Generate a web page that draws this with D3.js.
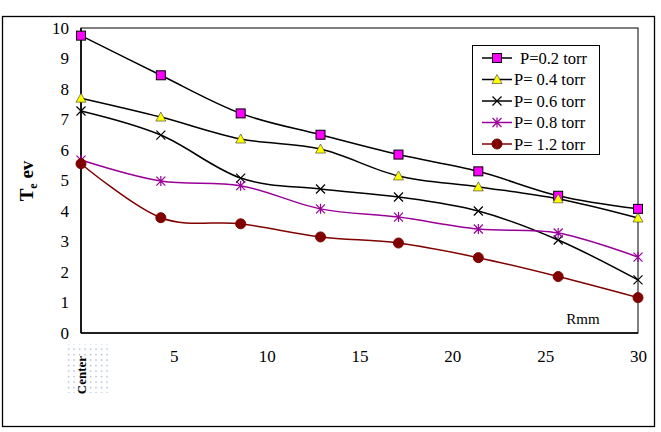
<!DOCTYPE html>
<html>
<head>
<meta charset="utf-8">
<script src="https://cdn.jsdelivr.net/npm/d3@7"></script>
<style>
  body { margin: 0; background: #fff; }
  svg { display: block; font-family: "Liberation Serif", "Times New Roman", serif; }
  .tick text { font-family: "Liberation Serif", "Times New Roman", serif; font-size: 17px; fill: #000; }
</style>
</head>
<body>
<div id="chart"></div>
<script>
// radial position (mm) of each probe point
const radius = [0, 4.3, 8.6, 12.9, 17.1, 21.4, 25.7, 30]

// electron temperature Te (eV) per pressure
const te02 = [9.75, 8.45, 7.2, 6.5, 5.85, 5.3, 4.5, 4.07]
const te04 = [7.7, 7.08, 6.36, 6.03, 5.15, 4.79, 4.4, 3.77]
const te06 = [7.28, 6.49, 5.08, 4.72, 4.46, 4.0, 3.05, 1.74]
const te08 = [5.67, 4.98, 4.83, 4.07, 3.8, 3.41, 3.28, 2.49]
const te12 = [5.55, 3.78, 3.58, 3.15, 2.95, 2.47, 1.85, 1.16]

const seriesNames = ['P=0.2 torr', 'P= 0.4 torr', 'P= 0.6 torr', 'P= 0.8 torr', 'P= 1.2 torr']
const yTicks = [0, 1, 2, 3, 4, 5, 6, 7, 8, 9, 10]
const xTicks = [5, 10, 15, 20, 25, 30]

const W = 661, H = 432
const plot = { left: 81, top: 28, right: 638, bottom: 333 }

const series = [
  { name: seriesNames[0], values: te02, line: '#000', marker: 'square', fill: '#ff00ff', stroke: '#000' },
  { name: seriesNames[1], values: te04, line: '#000', marker: 'triangle', fill: '#ffff00', stroke: '#333' },
  { name: seriesNames[2], values: te06, line: '#000', marker: 'x', fill: 'none', stroke: '#000' },
  { name: seriesNames[3], values: te08, line: '#990099', marker: 'star', fill: 'none', stroke: '#990099' },
  { name: seriesNames[4], values: te12, line: '#800000', marker: 'circle', fill: '#800000', stroke: '#800000' }
]

const svg = d3.select('#chart').append('svg')
  .attr('width', W)
  .attr('height', H)

// dotted patch behind "Center"
const defs = svg.append('defs')
defs.append('pattern')
  .attr('id', 'dots')
  .attr('width', 5.5)
  .attr('height', 5.5)
  .attr('patternUnits', 'userSpaceOnUse')
  .append('rect')
  .attr('x', 2).attr('y', 2)
  .attr('width', 1.2).attr('height', 1.2)
  .attr('fill', '#7f97bb')

// outer chart frame
svg.append('rect')
  .attr('x', 2.5).attr('y', 16.5)
  .attr('width', 652).attr('height', 410)
  .attr('fill', 'none')
  .attr('stroke', '#000')
  .attr('stroke-width', 1.3)

const x = d3.scaleLinear().domain([0, 30]).range([plot.left, plot.right])
const y = d3.scaleLinear().domain([0, 10]).range([plot.bottom, plot.top])

// plot area border
svg.append('rect')
  .attr('x', plot.left).attr('y', plot.top)
  .attr('width', plot.right - plot.left)
  .attr('height', plot.bottom - plot.top)
  .attr('fill', 'none')
  .attr('stroke', '#000')
  .attr('stroke-width', 1)

svg.append('line')
  .attr('x1', plot.left).attr('x2', plot.left)
  .attr('y1', plot.top).attr('y2', plot.bottom)
  .attr('stroke', '#000').attr('stroke-width', 1.6)
svg.append('line')
  .attr('x1', plot.left).attr('x2', plot.right)
  .attr('y1', plot.bottom).attr('y2', plot.bottom)
  .attr('stroke', '#000').attr('stroke-width', 1.6)

// axes (labels only, no tick marks)
const yAxis = svg.append('g')
  .attr('transform', `translate(${plot.left},0)`)
  .call(d3.axisLeft(y).tickValues(yTicks).tickSize(0).tickPadding(12))
yAxis.select('.domain').remove()

const xAxis = svg.append('g')
  .attr('transform', `translate(0,${plot.bottom})`)
  .call(d3.axisBottom(x).tickValues(xTicks).tickSize(0).tickPadding(17))
xAxis.select('.domain').remove()

// "Center" label at r = 0
svg.append('rect')
  .attr('x', 67).attr('y', 344)
  .attr('width', 44).attr('height', 49)
  .attr('fill', 'url(#dots)')
svg.append('text')
  .attr('transform', `translate(${x(0) + 5},375) rotate(-90)`)
  .attr('text-anchor', 'middle')
  .style('font-size', '13px')
  .style('font-weight', 'bold')
  .text('Center')

// y title: Te ev
const yTitle = svg.append('text')
  .attr('transform', 'translate(33,181) rotate(-90)')
  .attr('text-anchor', 'middle')
  .style('font-size', '19px')
  .style('font-weight', 'bold')
yTitle.append('tspan').text('T')
yTitle.append('tspan').attr('dy', 4).style('font-size', '12px').text('e')
yTitle.append('tspan').attr('dy', -4).text(' ev')

// x title
svg.append('text')
  .attr('x', 583).attr('y', 324)
  .attr('text-anchor', 'middle')
  .style('font-size', '15px')
  .text('Rmm')

function drawMarker(g, type, fill, stroke) {
  if (type === 'square') {
    g.append('rect').attr('x', -4.5).attr('y', -4.5).attr('width', 9).attr('height', 9)
      .attr('fill', fill).attr('stroke', stroke).attr('stroke-width', 1)
  } else if (type === 'triangle') {
    g.append('path').attr('d', 'M0,-5L5,4L-5,4Z')
      .attr('fill', fill).attr('stroke', stroke).attr('stroke-width', 0.6)
  } else if (type === 'x') {
    g.append('path').attr('d', 'M-4.5,-4.5L4.5,4.5M-4.5,4.5L4.5,-4.5')
      .attr('stroke', stroke).attr('stroke-width', 1.2).attr('fill', 'none')
  } else if (type === 'star') {
    g.append('path').attr('d', 'M-4.5,-4.5L4.5,4.5M-4.5,4.5L4.5,-4.5M0,-5L0,5')
      .attr('stroke', stroke).attr('stroke-width', 1.2).attr('fill', 'none')
  } else {
    g.append('circle').attr('r', 5).attr('fill', fill).attr('stroke', stroke)
  }
}

const line = d3.line()
  .x((d, i) => x(radius[i]))
  .y(d => y(d))
  .curve(d3.curveCatmullRom.alpha(0))

series.forEach(s => {
  svg.append('path')
    .datum(s.values)
    .attr('d', line)
    .attr('fill', 'none')
    .attr('stroke', s.line)
    .attr('stroke-width', 1.5)
})

series.forEach(s => {
  s.values.forEach((v, i) => {
    const g = svg.append('g').attr('transform', `translate(${x(radius[i])},${y(v)})`)
    drawMarker(g, s.marker, s.fill, s.stroke)
  })
})

// legend
const legend = svg.append('g')
legend.append('rect')
  .attr('x', 472.5).attr('y', 45.5)
  .attr('width', 127).attr('height', 109)
  .attr('fill', '#fff')
  .attr('stroke', '#000')
  .attr('stroke-width', 1)

series.forEach((s, i) => {
  const ly = 58 + i * 21.5
  legend.append('line')
    .attr('x1', 482).attr('x2', 512)
    .attr('y1', ly).attr('y2', ly)
    .attr('stroke', s.line)
    .attr('stroke-width', 1.5)
  drawMarker(legend.append('g').attr('transform', `translate(497,${ly})`), s.marker, s.fill, s.stroke)
  legend.append('text')
    .attr('x', i === 0 ? 520 : 514)
    .attr('y', ly + 5.5)
    .style('font-size', '16.5px')
    .text(s.name)
})
</script>
</body>
</html>
